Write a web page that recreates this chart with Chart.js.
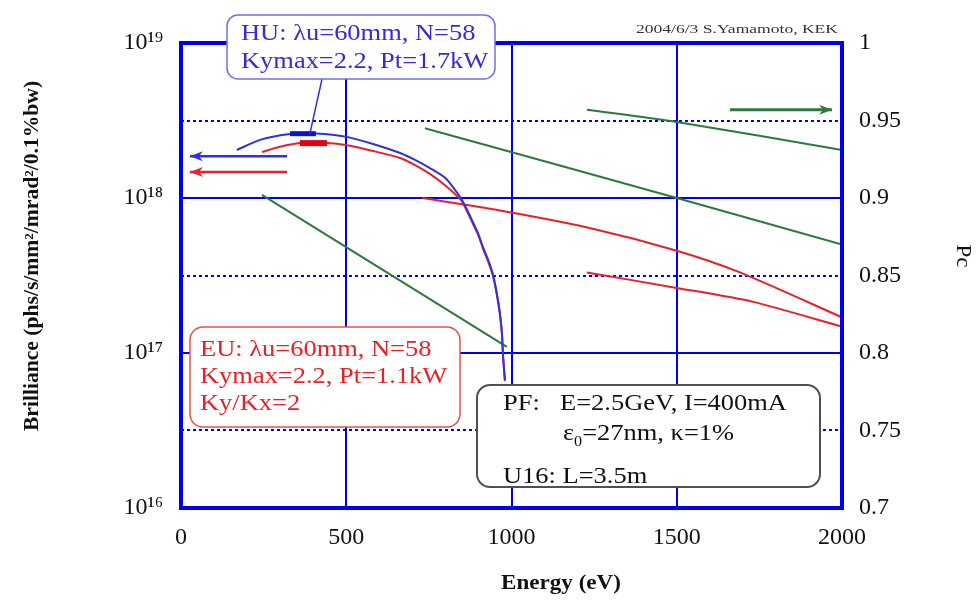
<!DOCTYPE html>
<html>
<head>
<meta charset="utf-8">
<script src="https://cdn.jsdelivr.net/npm/chart.js@4.4.0/dist/chart.umd.min.js"></script>
<style>
    html, body { margin: 0; padding: 0; background: #fff; }
</style>
</head>
<body>
<canvas id="brillianceChart" width="977" height="600"></canvas>
<script>
/*=============== BRILLIANCE / Pc CHART ===============*/

// HU brilliance (left axis)
const huEnergy = [169, 239, 330, 408, 502, 581, 663, 708, 753, 799, 829, 850, 868, 883, 899, 914, 929, 944, 956, 965, 971, 974, 977, 980];
const huBrill = [2.04e18, 2.37e18, 2.59e18, 2.61e18, 2.48e18, 2.23e18, 1.95e18, 1.76e18, 1.56e18, 1.35e18, 1.13e18, 9.7e17, 8.2e17, 7.0e17, 5.9e17, 4.8e17, 4.0e17, 3.2e17, 2.4e17, 1.8e17, 1.35e17, 1.0e17, 8.1e16, 6.7e16];

// EU brilliance (left axis)
const euEnergy = [245, 300, 360, 442, 502, 581, 663, 708, 753, 799, 829, 850, 868, 883, 899, 914, 929, 944, 956, 965, 971, 974, 977, 980];
const euBrill = [1.98e18, 2.14e18, 2.26e18, 2.26e18, 2.19e18, 2.01e18, 1.81e18, 1.63e18, 1.43e18, 1.21e18, 1.06e18, 9.5e17, 8.0e17, 6.85e17, 5.8e17, 4.7e17, 3.9e17, 3.15e17, 2.35e17, 1.77e17, 1.33e17, 0.98e17, 8.0e16, 6.6e16];

// Operating range markers
const huMarkEnergy = [330, 408];
const huMarkBrill = [2.6e18, 2.6e18];
const euMarkEnergy = [360, 442];
const euMarkBrill = [2.26e18, 2.26e18];

// Pc lines (right axis)
const pcGreen1Energy = [245, 986];
const pcGreen1 = [0.902, 0.804];
const pcGreen2Energy = [738, 1500, 2000];
const pcGreen2 = [0.945, 0.900, 0.870];
const pcGreen3Energy = [1228, 1500, 2000];
const pcGreen3 = [0.957, 0.949, 0.931];
const pcRed1Energy = [730, 965, 1230, 1500, 1691, 2000];
const pcRed1 = [0.900, 0.892, 0.881, 0.866, 0.852, 0.823];
const pcRed2Energy = [1228, 1500, 1731, 2000];
const pcRed2 = [0.852, 0.842, 0.833, 0.817];

// Axis arrows
const huArrowEnergy = [321, 27];
const huArrowBrill = [1.86e18, 1.86e18];
const euArrowEnergy = [321, 27];
const euArrowBrill = [1.47e18, 1.47e18];
const pcArrowEnergy = [1661, 1970];
const pcArrowValue = [0.957, 0.957];

// Ticks
const brillTicks = [1e16, 1e17, 1e18, 1e19];
const brillTickLabels = ['10¹⁶', '10¹⁷', '10¹⁸', '10¹⁹'];

const BLUE = '#0000f0';
const CURVE_BLUE = '#3030e0';
const RED = '#e82028';
const GREEN = '#2b7a3c';
const SERIF = "'Liberation Serif', 'Times New Roman', serif";

const pts = (xs, ys) => xs.map((x, i) => ({ x: x, y: ys[i] }));

const line = (label, xs, ys, color, axis, extra) => ({
    label: label,
    data: pts(xs, ys),
    yAxisID: axis,
    borderColor: color,
    backgroundColor: color,
    borderWidth: 2,
    pointRadius: 0,
    fill: false,
    tension: 0.25,
    ...extra
});

// Frame, arrowheads and text boxes
const decorPlugin = {
    id: 'decor',
    afterDatasetsDraw(chart) {
        const { ctx, chartArea: a } = chart;
        ctx.save();
        // arrowheads
        chart.data.datasets.forEach((ds, i) => {
            if (!ds.arrow) return;
            const pts = chart.getDatasetMeta(i).data;
            const p1 = pts[pts.length - 2], p2 = pts[pts.length - 1];
            const ang = Math.atan2(p2.y - p1.y, p2.x - p1.x);
            ctx.fillStyle = ds.borderColor;
            ctx.beginPath();
            ctx.moveTo(p2.x, p2.y);
            ctx.lineTo(p2.x - 13 * Math.cos(ang) + 5 * Math.sin(ang), p2.y - 13 * Math.sin(ang) - 5 * Math.cos(ang));
            ctx.lineTo(p2.x - 9 * Math.cos(ang), p2.y - 9 * Math.sin(ang));
            ctx.lineTo(p2.x - 13 * Math.cos(ang) - 5 * Math.sin(ang), p2.y - 13 * Math.sin(ang) + 5 * Math.cos(ang));
            ctx.closePath();
            ctx.fill();
        });
        // frame
        ctx.strokeStyle = BLUE;
        ctx.lineWidth = 4;
        ctx.strokeRect(a.left, a.top, a.right - a.left, a.bottom - a.top);
        ctx.restore();
    },
    afterDraw(chart) {
        const { ctx, scales } = chart;
        ctx.save();

        const box = (x, y, w, h, r, color, lw) => {
            ctx.beginPath();
            ctx.roundRect(x, y, w, h, r);
            ctx.fillStyle = '#fff';
            ctx.fill();
            ctx.strokeStyle = color;
            ctx.lineWidth = lw;
            ctx.stroke();
        };
        // text slightly stretched sideways, as in the original
        const text = (s, x, y, color, size, opts) => {
            const o = Object.assign({ sx: 1.15, align: 'left', rot: 0, weight: '' }, opts);
            ctx.save();
            ctx.fillStyle = color;
            ctx.font = o.weight + ' ' + size + 'px ' + SERIF;
            ctx.textBaseline = 'middle';
            ctx.textAlign = o.align;
            ctx.translate(x, y);
            ctx.rotate(o.rot);
            ctx.scale(o.sx, 1);
            ctx.fillText(s, 0, 0);
            const w = ctx.measureText(s).width * o.sx;
            ctx.restore();
            return w;
        };

        // HU pointer
        ctx.strokeStyle = CURVE_BLUE;
        ctx.lineWidth = 1.5;
        ctx.beginPath();
        ctx.moveTo(322, 79);
        ctx.lineTo(scales.x.getPixelForValue(390), scales.y.getPixelForValue(2.6e18));
        ctx.stroke();

        // HU box
        box(227, 15, 268, 64, 11, '#7070e8', 1.5);
        text('HU: λu=60mm, N=58', 241, 34, '#3a2ad0', 23);
        text('Kymax=2.2, Pt=1.7kW', 241, 62, '#3a2ad0', 23);

        // EU box
        box(190, 327, 270, 100, 13, '#e85050', 1.5);
        text('EU: λu=60mm, N=58', 200, 350, RED, 23);
        text('Kymax=2.2, Pt=1.1kW', 200, 377, RED, 23);
        text('Ky/Kx=2', 200, 404, RED, 23);

        // PF box
        box(477, 385, 343, 102, 13, '#505050', 2);
        text('PF:', 503, 404, '#111', 23);
        text('E=2.5GeV, I=400mA', 560, 404, '#111', 23);
        const w = text('ε', 563, 434, '#111', 23);
        const w0 = text('0', 563 + w, 442, '#111', 14);
        text('=27nm, κ=1%', 563 + w + w0, 434, '#111', 23);
        text('U16: L=3.5m', 503, 477, '#111', 23);

        // credit
        text('2004/6/3 S.Yamamoto, KEK', 838, 30, '#333', 13, { sx: 1.35, align: 'right' });

        // axis titles
        text('Energy (eV)', 561, 583, '#111', 22, { sx: 1.05, align: 'center', weight: 'bold' });
        text('Brilliance (phs/s/mm²/mrad²/0.1%bw)', 33, 256, '#111', 20, { sx: 1.08, align: 'center', weight: 'bold', rot: -Math.PI / 2 });
        text('Pc', 963, 256, '#111', 21, { sx: 1.1, align: 'center', rot: Math.PI / 2 });
        ctx.restore();
    }
};

document.addEventListener('DOMContentLoaded', () => {
    try {
        const ctx = document.getElementById('brillianceChart').getContext('2d');
        const tickFont = { family: SERIF, size: 24 };

        new Chart(ctx, {
            type: 'line',
            data: {
                datasets: [
                    line('HU mark', huMarkEnergy, huMarkBrill, '#1010d0', 'y', { borderWidth: 5, tension: 0 }),
                    line('EU mark', euMarkEnergy, euMarkBrill, '#e80010', 'y', { borderWidth: 6, tension: 0 }),
                    line('HU', huEnergy, huBrill, CURVE_BLUE, 'y'),
                    line('EU', euEnergy, euBrill, RED, 'y'),
                    line('HU arrow', huArrowEnergy, huArrowBrill, CURVE_BLUE, 'y', { arrow: true, borderWidth: 2.5, tension: 0 }),
                    line('EU arrow', euArrowEnergy, euArrowBrill, RED, 'y', { arrow: true, borderWidth: 2.5, tension: 0 }),
                    line('Pc arrow', pcArrowEnergy, pcArrowValue, GREEN, 'y2', { arrow: true, borderWidth: 3, tension: 0 }),
                    line('HU Pc 1', pcGreen1Energy, pcGreen1, GREEN, 'y2'),
                    line('HU Pc 2', pcGreen2Energy, pcGreen2, GREEN, 'y2'),
                    line('HU Pc 3', pcGreen3Energy, pcGreen3, GREEN, 'y2'),
                    line('EU Pc 1', pcRed1Energy, pcRed1, RED, 'y2'),
                    line('EU Pc 2', pcRed2Energy, pcRed2, RED, 'y2')
                ]
            },
            options: {
                responsive: false,
                animation: false,
                layout: { padding: { top: 43, left: 0, right: 0, bottom: 0 } },
                plugins: {
                    legend: { display: false },
                    tooltip: { enabled: false }
                },
                scales: {
                    x: {
                        type: 'linear',
                        min: 0,
                        max: 2000,
                        ticks: { stepSize: 500, color: '#111', font: tickFont, padding: 15, maxRotation: 0, callback: v => String(v) },
                        grid: {
                            drawTicks: false,
                            lineWidth: 2,
                            color: c => (c.tick && c.tick.value > 0 && c.tick.value < 2000) ? BLUE : 'transparent'
                        },
                        border: { display: false },
                        afterFit: s => { s.height = 92; }
                    },
                    y: {
                        type: 'logarithmic',
                        position: 'left',
                        min: 1e16,
                        max: 1e19,
                        afterBuildTicks: s => { s.ticks = brillTicks.map(v => ({ value: v })); },
                        ticks: {
                            color: '#111',
                            font: tickFont,
                            padding: 18,
                            callback: v => brillTickLabels[brillTicks.indexOf(v)]
                        },
                        grid: {
                            drawTicks: false,
                            lineWidth: 2,
                            color: c => (c.tick && (c.tick.value === 1e17 || c.tick.value === 1e18)) ? BLUE : 'transparent'
                        },
                        border: { display: false },
                        afterFit: s => { s.width = 181; }
                    },
                    y2: {
                        type: 'linear',
                        position: 'right',
                        min: 0.7,
                        max: 1,
                        ticks: {
                            stepSize: 0.05,
                            color: '#111',
                            font: tickFont,
                            padding: 17,
                            callback: v => String(+v.toFixed(2))
                        },
                        grid: {
                            drawTicks: false,
                            lineWidth: 2,
                            color: c => (c.tick && Math.round(c.tick.value * 100) % 10 === 5) ? BLUE : 'transparent'
                        },
                        border: { display: false, dash: c => c.tick ? [3, 3] : [] },
                        afterFit: s => { s.width = 135; }
                    }
                }
            },
            plugins: [decorPlugin]
        });
    } catch (error) {
        console.error('Error initializing brilliance chart:', error);
    }
});
</script>
</body>
</html>
